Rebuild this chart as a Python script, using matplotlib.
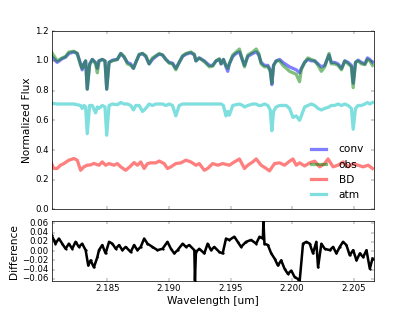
import matplotlib
matplotlib.use('Agg')
import matplotlib.pyplot as plt

plt.style.use('classic')
plt.rcParams['xtick.labelsize'] = 12
plt.rcParams['ytick.labelsize'] = 12
plt.rcParams['axes.labelsize'] = 14.5

# Data (wavelength in um)
wave = [2.18047, 2.18093, 2.18134, 2.18161, 2.18188, 2.18229, 2.18256, 2.18283, 2.18296, 2.18310,
        2.18324, 2.18337, 2.18356, 2.18378, 2.18405, 2.18419, 2.18432, 2.18459, 2.18481, 2.18495,
        2.18514, 2.18541, 2.18581, 2.18609, 2.18636, 2.18663, 2.18690, 2.18712, 2.18731, 2.18758,
        2.18785, 2.18812, 2.18839, 2.18866, 2.18894, 2.18921, 2.18948, 2.18975, 2.19002, 2.19029,
        2.19056, 2.19083, 2.19111, 2.19138, 2.19178, 2.19206, 2.19219, 2.19246, 2.19287, 2.19328,
        2.19355, 2.19382, 2.19409, 2.19423, 2.19442, 2.19463, 2.19477, 2.19490, 2.19518, 2.19545,
        2.19572, 2.19599, 2.19613, 2.19640, 2.19680, 2.19708, 2.19729, 2.19748, 2.19775, 2.19803,
        2.19822, 2.19835, 2.19849, 2.19870, 2.19898, 2.19925, 2.19952, 2.19979, 2.20006, 2.20033,
        2.20060, 2.20074, 2.20101, 2.20128, 2.20155, 2.20183, 2.20210, 2.20237, 2.20264, 2.20299,
        2.20318, 2.20345, 2.20372, 2.20400, 2.20427, 2.20454, 2.20481, 2.20495, 2.20514, 2.20535,
        2.20562, 2.20590, 2.20611, 2.20630, 2.20652]

conv = [1.03, 0.99, 1.015, 1.025, 1.05, 1.06, 1.05, 0.98, 0.94, 0.98,
        1.00, 0.81, 0.98, 1.01, 0.99, 0.95, 1.00, 1.01, 1.00, 0.81,
        0.99, 1.005, 1.01, 1.05, 1.025, 0.99, 0.98, 0.95, 0.99, 1.04,
        1.05, 1.03, 0.98, 1.01, 1.03, 1.045, 1.04, 1.01, 0.99, 0.985,
        0.95, 0.99, 1.03, 1.045, 1.055, 1.04, 1.00, 1.02, 1.00, 0.97,
        0.97, 1.00, 1.01, 0.98, 1.01, 0.96, 0.93, 0.98, 1.03, 1.05,
        1.06, 1.00, 0.97, 1.03, 1.05, 1.06, 1.04, 0.99, 0.97, 0.97,
        0.94, 0.84, 0.97, 1.00, 1.01, 0.99, 0.975, 0.96, 0.95, 0.94,
        0.92, 0.95, 0.99, 1.01, 1.00, 1.00, 0.98, 0.96, 0.97, 1.04,
        0.99, 0.99, 0.98, 0.95, 1.00, 0.99, 0.97, 0.85, 0.99, 1.005,
        0.99, 0.98, 1.02, 1.01, 0.99]

obs = [1.06, 1.00, 1.02, 1.03, 1.06, 1.065, 1.05, 0.97, 0.95, 0.98,
       1.00, 0.81, 0.97, 1.01, 0.98, 0.92, 1.00, 1.01, 1.00, 0.81,
       0.99, 1.00, 1.01, 1.05, 1.03, 0.98, 0.97, 0.95, 0.99, 1.045,
       1.05, 1.035, 0.98, 1.02, 1.035, 1.05, 1.04, 1.01, 0.985, 0.98,
       0.94, 0.99, 1.035, 1.05, 1.06, 1.045, 1.00, 1.02, 0.995, 0.96,
       0.965, 1.00, 1.015, 0.98, 1.01, 0.97, 0.95, 0.98, 1.04, 1.06,
       1.08, 1.00, 0.96, 1.04, 1.06, 1.08, 1.05, 0.98, 0.96, 0.96,
       0.93, 0.85, 0.97, 1.00, 1.00, 0.97, 0.95, 0.93, 0.92, 0.91,
       0.86, 0.94, 0.99, 1.02, 1.01, 1.00, 0.97, 0.93, 0.96, 1.05,
       0.98, 0.98, 0.97, 0.94, 1.00, 0.98, 0.96, 0.82, 0.99, 1.00,
       0.98, 0.975, 1.01, 1.00, 0.97]

atm = [0.715, 0.71, 0.71, 0.71, 0.71, 0.71, 0.705, 0.70, 0.68, 0.70,
       0.69, 0.51, 0.70, 0.70, 0.65, 0.69, 0.68, 0.70, 0.69, 0.50,
       0.70, 0.71, 0.705, 0.72, 0.71, 0.71, 0.70, 0.67, 0.70, 0.70,
       0.66, 0.68, 0.71, 0.70, 0.71, 0.71, 0.71, 0.70, 0.71, 0.70,
       0.63, 0.70, 0.71, 0.71, 0.71, 0.71, 0.71, 0.71, 0.71, 0.71,
       0.71, 0.71, 0.71, 0.71, 0.70, 0.63, 0.66, 0.635, 0.70, 0.705,
       0.71, 0.70, 0.69, 0.70, 0.71, 0.71, 0.70, 0.70, 0.71, 0.70,
       0.67, 0.53, 0.66, 0.69, 0.70, 0.70, 0.70, 0.68, 0.62, 0.63,
       0.60, 0.63, 0.69, 0.70, 0.71, 0.70, 0.68, 0.67, 0.68, 0.69,
       0.70, 0.70, 0.71, 0.70, 0.71, 0.70, 0.68, 0.54, 0.68, 0.70,
       0.70, 0.71, 0.72, 0.71, 0.72]

bd_wave = [2.18047, 2.18066, 2.18093, 2.18120, 2.18147, 2.18188, 2.18229, 2.18256, 2.18283, 2.18310,
           2.18337, 2.18364, 2.18391, 2.18432, 2.18459, 2.18486, 2.18514, 2.18554, 2.18581, 2.18609,
           2.18649, 2.18682, 2.18717, 2.18744, 2.18771, 2.18799, 2.18826, 2.18853, 2.18894, 2.18921,
           2.18961, 2.18988, 2.19016, 2.19056, 2.19097, 2.19138, 2.19178, 2.19219, 2.19246, 2.19287,
           2.19314, 2.19355, 2.19396, 2.19436, 2.19490, 2.19531, 2.19572, 2.19613, 2.19640, 2.19680,
           2.19708, 2.19748, 2.19789, 2.19816, 2.19857, 2.19898, 2.19938, 2.19979, 2.20006, 2.20033,
           2.20060, 2.20101, 2.20142, 2.20183, 2.20223, 2.20264, 2.20291, 2.20332, 2.20372, 2.20413,
           2.20454, 2.20495, 2.20535, 2.20576, 2.20617, 2.20652]

bd = [0.31, 0.276, 0.276, 0.298, 0.309, 0.332, 0.343, 0.332, 0.264, 0.287,
      0.298, 0.30, 0.31, 0.298, 0.32, 0.298, 0.309, 0.298, 0.309, 0.287,
      0.264, 0.287, 0.316, 0.298, 0.32, 0.276, 0.309, 0.314, 0.314, 0.326,
      0.309, 0.276, 0.287, 0.309, 0.314, 0.332, 0.32, 0.298, 0.309, 0.264,
      0.276, 0.309, 0.298, 0.309, 0.298, 0.32, 0.34, 0.276, 0.298, 0.32,
      0.34, 0.298, 0.276, 0.26, 0.309, 0.314, 0.298, 0.325, 0.34, 0.298,
      0.314, 0.293, 0.314, 0.325, 0.287, 0.309, 0.34, 0.287, 0.298, 0.32,
      0.287, 0.309, 0.298, 0.287, 0.298, 0.276]

diff_wave = [2.18047, 2.18066, 2.18079, 2.18107, 2.18134, 2.18161, 2.18188, 2.18215, 2.18242, 2.18269,
             2.18296, 2.18324, 2.18345, 2.18364, 2.18391, 2.18419, 2.18432, 2.18459, 2.18486, 2.18514,
             2.18541, 2.18568, 2.18595, 2.18622, 2.18649, 2.18690, 2.18717, 2.18744, 2.18771, 2.18799,
             2.18826, 2.18866, 2.18907, 2.18948, 2.18988, 2.19016, 2.19043, 2.19070, 2.19111, 2.19138,
             2.19165, 2.19206, 2.19211, 2.19219, 2.19246, 2.19287, 2.19314, 2.19341, 2.19368, 2.19409,
             2.19436, 2.19463, 2.19490, 2.19531, 2.19558, 2.19585, 2.19626, 2.19667, 2.19708, 2.19735,
             2.19762, 2.19767, 2.19775, 2.19803, 2.19830, 2.19857, 2.19884, 2.19911, 2.19938, 2.19965,
             2.19993, 2.20020, 2.20047, 2.20060, 2.20088, 2.20115, 2.20142, 2.20169, 2.20196, 2.20210,
             2.20237, 2.20264, 2.20305, 2.20332, 2.20359, 2.20386, 2.20413, 2.20440, 2.20467, 2.20495,
             2.20522, 2.20549, 2.20576, 2.20603, 2.20630, 2.20652]

diff = [0.034, 0.024, 0.016, 0.027, 0.016, 0.005, 0.016, 0.005, 0.020, 0.009,
        0.016, 0.002, -0.031, -0.020, -0.035, -0.013, 0.002, 0.013, -0.005, 0.020,
        0.016, 0.005, 0.013, 0.002, 0.009, -0.002, 0.013, 0.002, 0.009, 0.027,
        0.016, 0.009, 0.002, 0.005, 0.020, 0.005, -0.005, 0.002, 0.016, 0.009,
        0.013, 0.002, -0.064, -0.002, 0.005, -0.005, 0.016, 0.002, 0.009, -0.002,
        -0.005, 0.027, 0.024, 0.031, 0.020, 0.009, 0.020, 0.024, 0.016, 0.031,
        0.027, 0.064, 0.016, 0.013, -0.005, -0.016, -0.031, -0.020, -0.038, -0.049,
        -0.042, -0.056, -0.060, -0.067, 0.016, 0.020, 0.016, -0.005, 0.020, -0.035,
        0.016, 0.005, 0.002, 0.009, -0.005, 0.009, 0.020, 0.013, -0.009, 0.002,
        -0.020, -0.005, -0.013, 0.002, -0.038, -0.016]

fig, (ax1, ax2) = plt.subplots(2, 1, figsize=(415 / 52.0, 6), sharex=True,
                               gridspec_kw={'height_ratios': [3, 1], 'hspace': 0.1})
fig.patch.set_facecolor('white')

ax1.plot(wave, conv, 'b', lw=4.5, alpha=0.5, label='conv')
ax1.plot(wave, obs, 'g', lw=4.5, alpha=0.5, label='obs')
ax1.plot(bd_wave, bd, 'r', lw=4.5, alpha=0.5, label='BD')
ax1.plot(wave, atm, 'c', lw=4.5, alpha=0.5, label='atm')
ax1.set_ylim(0, 1.2)
ax1.set_ylabel('Normalized Flux')
ax1.legend(loc='lower right', frameon=False, fontsize=14.5, handletextpad=0.9)

ax2.plot(diff_wave, diff, 'k', lw=3.5, marker='.', ms=5)
ax2.set_ylim(-0.064, 0.064)
ax2.set_yticks([-0.06, -0.04, -0.02, 0.0, 0.02, 0.04, 0.06])
ax2.set_ylabel('Difference')
ax2.set_xlabel('Wavelength [um]')
ax2.set_xlim(2.1805, 2.2066)
ax2.ticklabel_format(axis='x', useOffset=False)

fig.savefig('out.png', dpi=52, facecolor='white')
